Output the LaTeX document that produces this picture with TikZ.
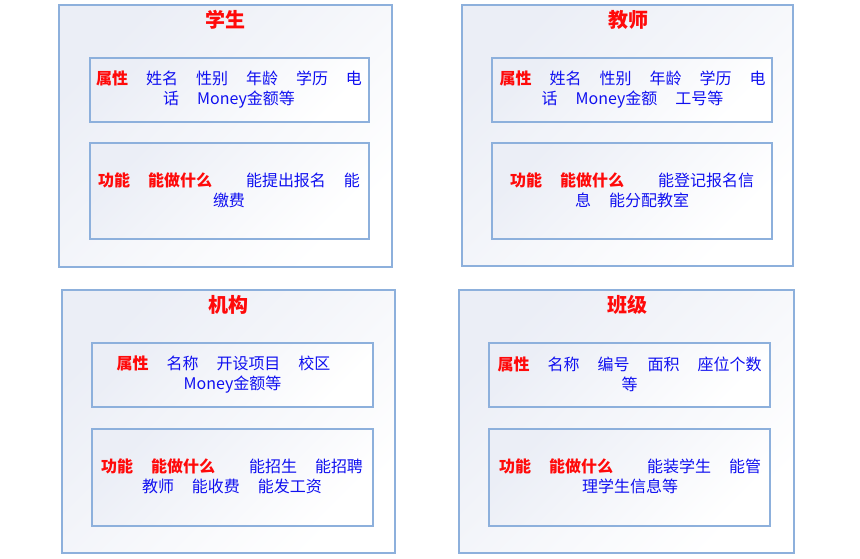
\documentclass[tikz,border=0pt]{standalone}
\usepackage{fontspec}
\newfontfamily\cjk{Noto Sans CJK SC}
\definecolor{boxline}{HTML}{8DB0DC}
\definecolor{shadetop}{HTML}{EBEEF6}
\definecolor{txtblue}{HTML}{1010F0}
\definecolor{txtred}{HTML}{FF0A0A}
\newcommand\redt[1]{\textcolor{txtred}{\bfseries #1}}
\newcommand\sgap{\hspace{18pt}}
\newcommand\lgap{\hspace{34pt}}
\tikzset{
  panel/.style={draw=boxline, line width=1.3pt, top color=shadetop, bottom color=white, shading angle=45, inner sep=0pt},
  titletext/.style={font=\cjk\fontsize{20}{24}\selectfont\bfseries, text=txtred},
  bodytext/.style={font=\cjk\fontsize{16}{20}\selectfont, text=txtblue, align=center, inner sep=0pt}
}
\begin{document}
\begin{tikzpicture}[x=1pt,y=-1pt]
\useasboundingbox (0,0) rectangle (860,559);
% 学生
\node[panel, minimum width=333pt, minimum height=262pt] (so) at (225.5,136) {};
\node[titletext] (st) at (225,20) {学生};
\node[panel, minimum width=279pt, minimum height=64pt] (sa) at (229.5,90) {};
\node[panel, minimum width=279pt, minimum height=96pt] (sf) at (229.5,191) {};
\node[bodytext] (sat) at (229,89.5) {\redt{属性}\sgap 姓名\sgap 性别\sgap 年龄\sgap 学历\sgap 电\\话\sgap Money金额等};
\node[bodytext] (sft) at (229,190.5) {\redt{功能}\sgap\redt{能做什么}\lgap 能提出报名\sgap 能\\缴费};
% 教师
\node[panel, minimum width=331pt, minimum height=261pt] (to) at (627.5,135.5) {};
\node[titletext] (tt) at (628,20) {教师};
\node[panel, minimum width=280pt, minimum height=64pt] (ta) at (632,90) {};
\node[panel, minimum width=280pt, minimum height=96pt] (tf) at (632,191) {};
\node[bodytext] (tat) at (632.5,89.5) {\redt{属性}\sgap 姓名\sgap 性别\sgap 年龄\sgap 学历\sgap 电\\话\sgap Money金额\sgap 工号等};
\node[bodytext] (tft) at (632,190.5) {\redt{功能}\sgap\redt{能做什么}\lgap 能登记报名信\\息\sgap 能分配教室};
% 机构
\node[panel, minimum width=333pt, minimum height=263pt] (jo) at (228.5,421.5) {};
\node[titletext] (jt) at (228,305) {机构};
\node[panel, minimum width=281pt, minimum height=64pt] (ja) at (232.5,375) {};
\node[panel, minimum width=281pt, minimum height=97pt] (jf) at (232.5,477.5) {};
\node[bodytext] (jat) at (232.5,374.5) {\redt{属性}\sgap 名称\sgap 开设项目\sgap 校区\hspace*{18pt}\\Money金额等};
\node[bodytext] (jft) at (232,476.5) {\redt{功能}\sgap\redt{能做什么}\lgap 能招生\sgap 能招聘\\教师\sgap 能收费\sgap 能发工资};
% 班级
\node[panel, minimum width=335pt, minimum height=263pt] (bo) at (626.5,421.5) {};
\node[titletext] (bt) at (627,305) {班级};
\node[panel, minimum width=281pt, minimum height=64pt] (ba) at (629.5,375) {};
\node[panel, minimum width=281pt, minimum height=97pt] (bf) at (629.5,477.5) {};
\node[bodytext] (bat) at (629.5,374.5) {\redt{属性}\sgap 名称\sgap 编号\sgap 面积\sgap 座位个数\\等};
\node[bodytext] (bft) at (630,476.5) {\redt{功能}\sgap\redt{能做什么}\lgap 能装学生\sgap 能管\\理学生信息等};
\end{tikzpicture}
\end{document}
